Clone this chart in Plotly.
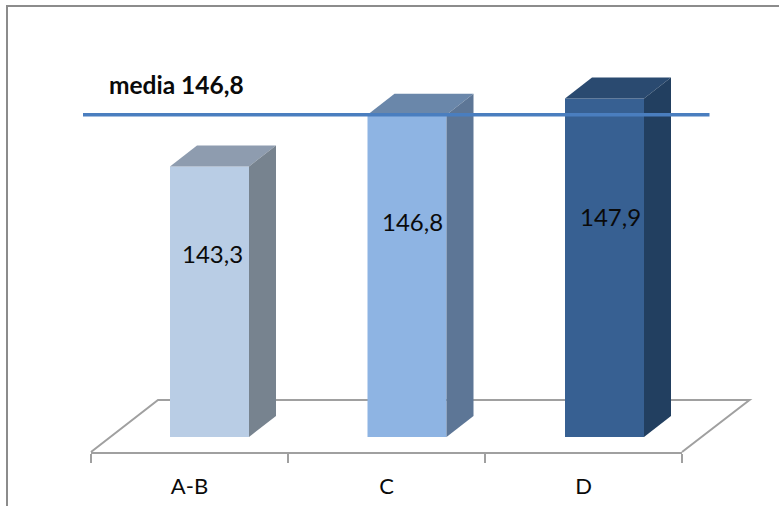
import plotly.graph_objects as go

categories = ["A-B", "C", "D"]
values = [143.3, 146.8, 147.9]
value_labels = ["143,3", "146,8", "147,9"]
mean_value = 146.8
mean_label = "media 146,8"

front_colors = ["#B9CDE5", "#8EB4E3", "#376092"]
top_colors = ["#8E9CAF", "#6A87AA", "#2A4A70"]
side_colors = ["#77838F", "#5D7696", "#223F60"]

W, H = 779, 506
FONT = "Lato"
STEP = 197.5          # px between bars
X0 = 209.5            # px of first bar centre
BAR_W = 79.0
DX, DY = 27.0, 21.0   # depth offset px
PX_PER_UNIT = 14.78
Y_REF_VAL, Y_REF_PX = 143.3, 166.5
BASE_PX = 437.0


def px_to_x(px):
    return (px - X0) / STEP


def px_to_y(py):
    return Y_REF_VAL + (Y_REF_PX - py) / PX_PER_UNIT


base_val = px_to_y(BASE_PX)
dx_u = DX / STEP
dy_u = DY / PX_PER_UNIT
hw = BAR_W / 2 / STEP

fig = go.Figure()

fig.add_trace(go.Bar(
    x=list(range(len(values))),
    y=[v - base_val for v in values],
    base=base_val,
    width=BAR_W / STEP,
    marker=dict(color=front_colors, line=dict(width=0)),
    hoverinfo="skip",
    showlegend=False,
))

for i, v in enumerate(values):
    l, r = i - hw, i + hw
    # top face
    fig.add_trace(go.Scatter(
        x=[l, r, r + dx_u, l + dx_u, l],
        y=[v, v, v + dy_u, v + dy_u, v],
        mode="lines", fill="toself", fillcolor=top_colors[i],
        line=dict(width=0), hoverinfo="skip", showlegend=False,
    ))
    # side face
    fig.add_trace(go.Scatter(
        x=[r, r + dx_u, r + dx_u, r, r],
        y=[v, v + dy_u, base_val + dy_u, base_val, v],
        mode="lines", fill="toself", fillcolor=side_colors[i],
        line=dict(width=0), hoverinfo="skip", showlegend=False,
    ))

# mean line
fig.add_trace(go.Scatter(
    x=[px_to_x(83), px_to_x(709.5)],
    y=[mean_value, mean_value],
    mode="lines", line=dict(color="#4A7EBF", width=3.5),
    hoverinfo="skip", showlegend=False,
))

# helper trace carrying the category tick axis
fig.add_trace(go.Scatter(
    x=categories, y=values, xaxis="x2", yaxis="y2",
    mode="markers", marker=dict(opacity=0),
    hoverinfo="skip", showlegend=False,
))

LABEL_FONT = dict(family=FONT, size=24, color="#0A0A0A")

fig.update_layout(
    width=W, height=H,
    margin=dict(l=0, r=0, t=0, b=0),
    paper_bgcolor="white", plot_bgcolor="rgba(0,0,0,0)",
    autosize=False,
    xaxis=dict(domain=[0, 1], range=[px_to_x(0), px_to_x(W)], visible=False),
    yaxis=dict(domain=[0, 1], range=[px_to_y(H), px_to_y(0)], visible=False),
    xaxis2=dict(
        domain=[91 / W, 682 / W], anchor="y2", type="category",
        categoryorder="array", categoryarray=categories,
        range=[-0.5, 2.5], autorange=False,
        tickson="boundaries", ticks="outside", ticklen=9, tickwidth=2,
        tickcolor="#A0A0A0", showline=True, linecolor="#A0A0A0", linewidth=2,
        showgrid=False, zeroline=False,
        tickfont=dict(family=FONT, size=22, color="#0A0A0A"),
        ticklabelstandoff=14,
    ),
    yaxis2=dict(domain=[(H - 452) / H, 1], anchor="x2", visible=False),
    shapes=[
        # floor
        dict(type="path", xref="paper", yref="paper", layer="below",
             path=f"M {91/W} {(H-452)/H} L {158/W} {(H-400)/H} L {749.5/W} {(H-400)/H} L {682/W} {(H-452)/H}",
             line=dict(color="#A0A0A0", width=2), fillcolor="rgba(0,0,0,0)"),
        # outer frame
        dict(type="path", xref="paper", yref="paper", layer="below",
             path=f"M {7/W} 0 L {7/W} {(H-6)/H} L 1 {(H-6)/H}",
             line=dict(color="#8C8C8C", width=2), fillcolor="rgba(0,0,0,0)"),
    ],
    annotations=[
        dict(text=value_labels[0], x=212.5 / W, y=(H - 253) / H, xref="paper", yref="paper",
             xanchor="center", yanchor="middle", showarrow=False, font=LABEL_FONT),
        dict(text=value_labels[1], x=412.5 / W, y=(H - 221) / H, xref="paper", yref="paper",
             xanchor="center", yanchor="middle", showarrow=False, font=LABEL_FONT),
        dict(text=value_labels[2], x=610.5 / W, y=(H - 216) / H, xref="paper", yref="paper",
             xanchor="center", yanchor="middle", showarrow=False, font=LABEL_FONT),
        dict(text=f"<b>{mean_label}</b>", x=176 / W, y=(H - 84.5) / H, xref="paper", yref="paper",
             xanchor="center", yanchor="middle", showarrow=False,
             font=dict(family=FONT, size=24.5, color="#0A0A0A")),
    ],
)

fig.write_html("out.html", config=dict(displayModeBar=False),
               post_script="document.body.style.margin='0';")
